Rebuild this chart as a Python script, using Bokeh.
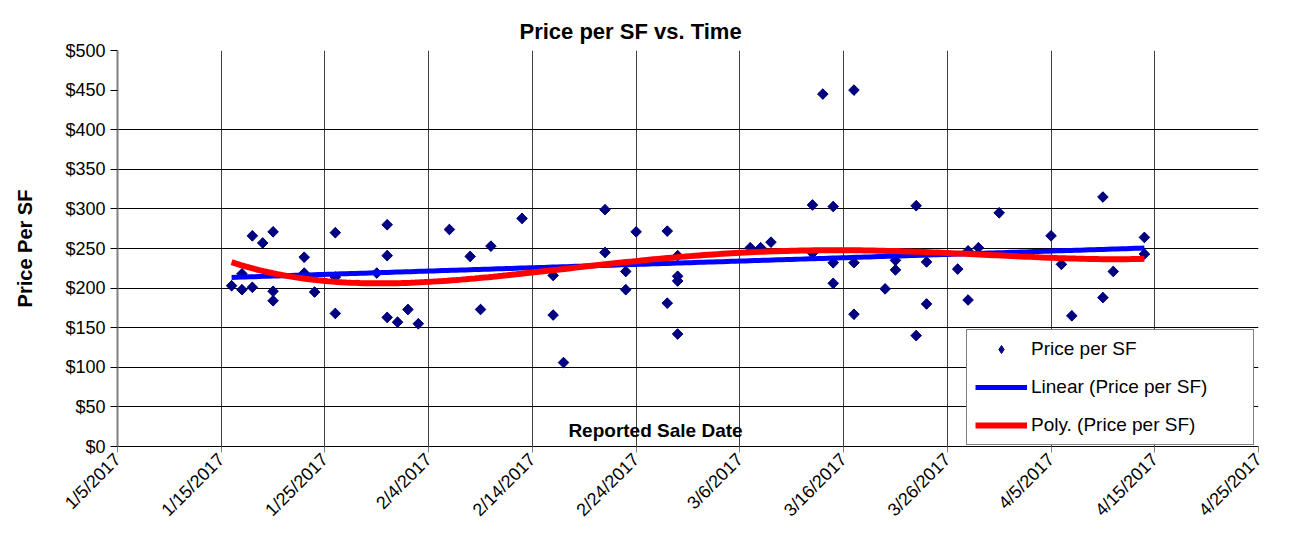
import numpy as np
import pandas as pd
from math import pi
from bokeh.plotting import figure
from bokeh.models import (ColumnDataSource, FixedTicker, CustomJSTickFormatter,
                          NumeralTickFormatter, Legend, LegendItem, Label, Range1d)
from bokeh.embed import file_html
from bokeh.resources import INLINE

# ---------------- data ----------------
sale_dates = [
    "2017-01-16", "2017-01-17", "2017-01-17", "2017-01-18", "2017-01-18",
    "2017-01-19", "2017-01-20", "2017-01-20", "2017-01-20", "2017-01-23",
    "2017-01-23", "2017-01-24", "2017-01-26", "2017-01-26", "2017-01-26",
    "2017-01-30", "2017-01-31", "2017-01-31", "2017-01-31", "2017-02-01",
    "2017-02-02", "2017-02-03", "2017-02-06", "2017-02-08", "2017-02-09",
    "2017-02-10", "2017-02-13", "2017-02-16", "2017-02-16", "2017-02-17",
    "2017-02-21", "2017-02-21", "2017-02-23", "2017-02-23", "2017-02-24",
    "2017-02-27", "2017-02-27", "2017-02-28", "2017-02-28", "2017-02-28",
    "2017-02-28", "2017-03-07", "2017-03-08", "2017-03-09", "2017-03-13",
    "2017-03-13", "2017-03-14", "2017-03-15", "2017-03-15", "2017-03-15",
    "2017-03-17", "2017-03-17", "2017-03-17", "2017-03-20", "2017-03-21",
    "2017-03-21", "2017-03-23", "2017-03-23", "2017-03-24", "2017-03-24",
    "2017-03-27", "2017-03-28", "2017-03-28", "2017-03-29", "2017-03-31",
    "2017-04-05", "2017-04-06", "2017-04-07", "2017-04-10", "2017-04-10",
    "2017-04-11", "2017-04-14", "2017-04-14",
]
price_per_sf = [
    203, 198, 218, 266, 201,
    257, 271, 196, 184, 239,
    219, 195, 270, 214, 168,
    219, 280, 241, 163, 157,
    173, 155, 274, 240, 173,
    253, 288, 216, 166, 106,
    299, 245, 221, 198, 271,
    272, 181, 241, 215, 209,
    142, 251, 251, 258, 305,
    244, 445, 303, 232, 206,
    450, 232, 167, 199, 235,
    223, 304, 140, 233, 180,
    224, 247, 185, 251, 295,
    266, 230, 165, 315, 188,
    221, 264, 243,
]
x_tick_dates = ["2017-01-05", "2017-01-15", "2017-01-25", "2017-02-04", "2017-02-14",
                "2017-02-24", "2017-03-06", "2017-03-16", "2017-03-26", "2017-04-05",
                "2017-04-15", "2017-04-25"]
y_tick_values = [0, 50, 100, 150, 200, 250, 300, 350, 400, 450, 500]
y_grid_values = [0, 50, 100, 150, 200, 250, 300, 350, 400, 500]

# ---------------- derived ----------------
dts = pd.to_datetime(sale_dates)
src = ColumnDataSource(dict(x=dts, y=price_per_sf))

xnum = (dts - dts.min()).days.values.astype(float)
yarr = np.array(price_per_sf, dtype=float)
lin_c = np.polyfit(xnum, yarr, 1)
poly_c = np.polyfit(xnum, yarr, 4)
xs = np.linspace(xnum.min(), xnum.max(), 200)
xs_dt = dts.min() + pd.to_timedelta(xs, unit="D")
lin_src = ColumnDataSource(dict(x=xs_dt, y=np.polyval(lin_c, xs)))
poly_src = ColumnDataSource(dict(x=xs_dt, y=np.polyval(poly_c, xs)))

tick_ms = [pd.Timestamp(d).value // 10**6 for d in x_tick_dates]

FONT = "Liberation Sans"

p = figure(width=1290, height=550, x_axis_type="datetime",
           output_backend="svg", toolbar_location=None,
           x_range=Range1d(pd.Timestamp(x_tick_dates[0]), pd.Timestamp(x_tick_dates[-1])),
           y_range=Range1d(0, 500),
           min_border_left=117, min_border_right=32, min_border_top=50, min_border_bottom=104)
p.background_fill_color = "white"
p.border_fill_color = "white"
p.outline_line_color = None

# title
p.title.text = "Price per SF vs. Time"
p.title.text_font = FONT
p.title.text_font_style = "bold"
p.title.text_font_size = "22px"
p.title.text_color = "black"
p.title.align = "left"
p.title.offset = 402
p.title.standoff = 14

# axes
xa = p.xaxis[0]
xa.ticker = FixedTicker(ticks=tick_ms)
xa.formatter = CustomJSTickFormatter(code="""
const d = new Date(tick);
return (d.getUTCMonth()+1) + '/' + d.getUTCDate() + '/' + d.getUTCFullYear();
""")
xa.major_label_orientation = pi / 4
xa.major_label_text_font = FONT
xa.major_label_text_font_size = "18px"
xa.major_label_text_color = "black"
xa.major_label_standoff = 4
xa.major_tick_out = 6
xa.major_tick_in = 0
xa.minor_tick_out = 0
xa.minor_tick_in = 0
xa.axis_line_color = "black"
xa.major_tick_line_color = "#808080"

ya = p.yaxis[0]
ya.ticker = FixedTicker(ticks=y_tick_values)
ya.formatter = NumeralTickFormatter(format="$0")
ya.major_label_text_font = FONT
ya.major_label_text_font_size = "18px"
ya.major_label_text_color = "black"
ya.major_label_standoff = 5
ya.major_tick_out = 7
ya.major_tick_in = 0
ya.minor_tick_out = 0
ya.minor_tick_in = 0
ya.axis_line_color = "#808080"
ya.axis_line_width = 2
ya.major_tick_line_color = "black"
ya.axis_label = "Price Per SF"
ya.axis_label_text_font = FONT
ya.axis_label_text_font_style = "bold"
ya.axis_label_text_font_size = "20px"
ya.axis_label_text_color = "black"
ya.axis_label_standoff = 26

# grids
p.xgrid.ticker = FixedTicker(ticks=tick_ms)
p.xgrid.grid_line_color = "#404040"
p.xgrid.grid_line_width = 1
p.ygrid.ticker = FixedTicker(ticks=y_grid_values)
p.ygrid.grid_line_color = "black"
p.ygrid.grid_line_width = 1

# glyphs
lin_r = p.line("x", "y", source=lin_src, line_color="#0000FF", line_width=5)
poly_r = p.line("x", "y", source=poly_src, line_color="#FF0000", line_width=6)
# diamond version of the points (fully covered by the rotated squares) used as legend key
pts_key = p.scatter("x", "y", source=src, marker="diamond", size=10,
                    fill_color="#000080", line_color="#000080")
pts = p.scatter("x", "y", source=src, marker="square", angle=pi / 4, size=7.5,
                fill_color="#000080", line_color="#000080")
p.renderers = [pts_key, pts, lin_r, poly_r]

# x-axis title placed inside the plot area like the reference
p.add_layout(Label(x=538, y=16, x_units="screen", y_units="screen",
                   text="Reported Sale Date", text_font=FONT, text_font_style="bold",
                   text_font_size="19px", text_align="center", text_baseline="middle",
                   text_color="black"))

legend = Legend(items=[LegendItem(label="Price per SF", renderers=[pts_key]),
                       LegendItem(label="Linear (Price per SF)", renderers=[lin_r]),
                       LegendItem(label="Poly. (Price per SF)", renderers=[poly_r])],
                location=(849, 1))
legend.label_text_font = FONT
legend.label_text_font_size = "19px"
legend.label_text_color = "black"
legend.border_line_color = "black"
legend.border_line_width = 1
legend.background_fill_color = "white"
legend.background_fill_alpha = 1
legend.glyph_width = 52
legend.glyph_height = 20
legend.label_height = 20
legend.label_width = 214
legend.label_standoff = 4
legend.spacing = 16
legend.padding = 8
legend.margin = 0
p.add_layout(legend)

open("out.html", "w").write(file_html(p, INLINE))
